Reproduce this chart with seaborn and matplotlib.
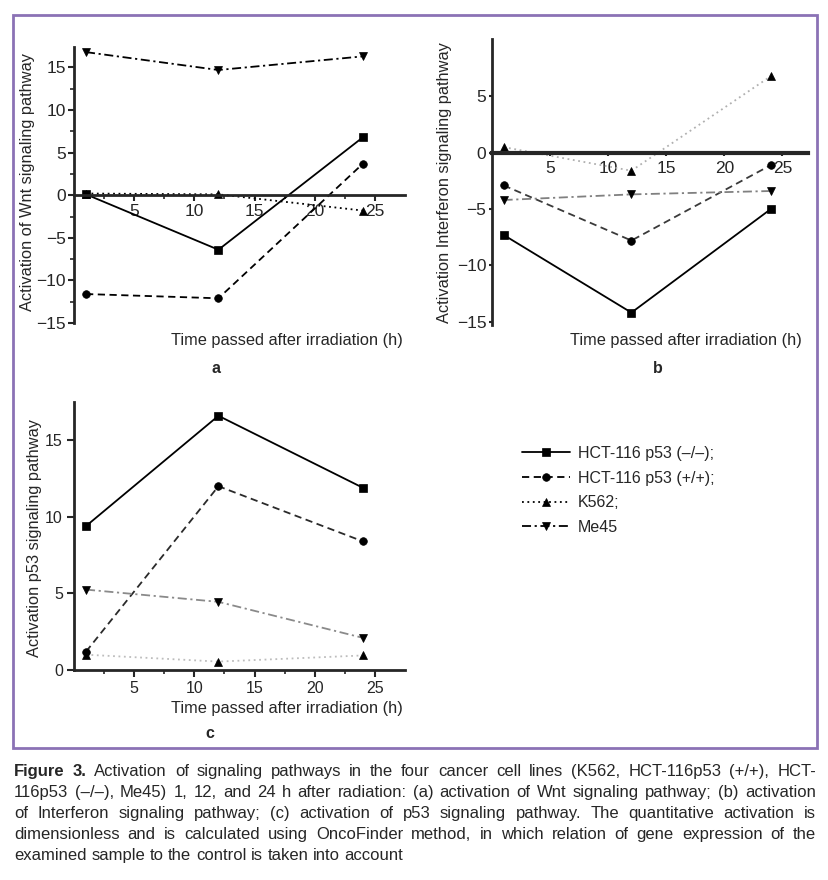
import numpy as np
import seaborn as sns
import matplotlib
matplotlib.use("Agg")
import matplotlib.pyplot as plt
from matplotlib.patches import Rectangle

##########
## data
hours = [1, 12, 24]
series_names = ["HCT-116 p53 (–/–);", "HCT-116 p53 (+/+);", "K562;", "Me45"]

wnt_hct_ko = [0.1, -6.4, 6.8]
wnt_hct_wt = [-11.6, -12.1, 3.7]
wnt_k562 = [0.2, 0.1, -1.8]
wnt_me45 = [16.8, 14.7, 16.3]

ifn_hct_ko = [-7.3, -14.2, -5.0]
ifn_hct_wt = [-2.9, -7.8, -1.1]
ifn_k562 = [0.5, -1.6, 6.8]
ifn_me45 = [-4.2, -3.7, -3.4]

p53_hct_ko = [9.4, 16.6, 11.9]
p53_hct_wt = [1.2, 12.0, 8.4]
p53_k562 = [1.0, 0.55, 0.95]
p53_me45 = [5.25, 4.45, 2.1]

caption_lines = [
    "Figure 3. Activation of signaling pathways in the four cancer cell lines (K562, HCT-116p53 (+/+), HCT-",
    "116p53 (–/–), Me45) 1, 12, and 24 h after radiation: (a) activation of Wnt signaling pathway; (b) activation",
    "of Interferon signaling pathway; (c) activation of p53 signaling pathway. The quantitative activation is",
    "dimensionless and is calculated using OncoFinder method, in which relation of gene expression of the",
    "examined sample to the control is taken into account",
]

##########
sns.set_style("ticks")
plt.rcParams["font.family"] = ["Liberation Sans", "DejaVu Sans"]
plt.rcParams["axes.unicode_minus"] = True

W, H = 829, 880
fig = plt.figure(figsize=(W / 100, H / 100), dpi=100)


def px(x, y):
    return x / W, 1 - y / H


def place_axes(l, t, r, b):
    return fig.add_axes([l / W, 1 - b / H, (r - l) / W, (b - t) / H])


# line styles: solid / dashed / dotted / dash-dot
styles = [
    dict(linestyle="-", marker="s"),
    dict(linestyle=(0, (4, 2.5)), marker="o"),
    dict(linestyle=(0, (1, 2)), marker="^"),
    dict(linestyle=(0, (5, 2, 1.2, 2)), marker="v"),
]


def draw(ax, values, colors):
    for vals, st, col, name in zip(values, styles, colors, series_names):
        sns.lineplot(x=hours, y=vals, ax=ax, color=col, linewidth=1.3,
                     markersize=5.5, markerfacecolor="black", markeredgecolor="black",
                     markeredgewidth=0.5, errorbar=None, legend=False, label=name, **st)
    ax.set_xlabel("")
    ax.set_ylabel("")
    for s in ["top", "right"]:
        ax.spines[s].set_visible(False)


##### panel a
ax_a = place_axes(74, 47, 405, 323)
draw(ax_a, [wnt_hct_ko, wnt_hct_wt, wnt_k562, wnt_me45], ["black"] * 4)
ax_a.set_xlim(0, 27.5)
ax_a.set_ylim(-15, 17.4)
ax_a.spines["bottom"].set_position(("data", 0))
ax_a.spines["bottom"].set_linewidth(2)
ax_a.spines["left"].set_linewidth(2)
ax_a.set_xticks([5, 10, 15, 20, 25])
ax_a.set_xticks(np.arange(2.5, 27.5, 5), minor=True)
ax_a.set_yticks([-15, -10, -5, 0, 5, 10, 15])
ax_a.set_yticks(np.arange(-12.5, 17.5, 5), minor=True)
ax_a.tick_params(axis="both", which="major", labelsize=12.5, length=4, width=1.5, pad=2)
ax_a.tick_params(axis="both", which="minor", length=3, width=1.2)

##### panel b
ax_b = place_axes(492, 39, 808, 325)
draw(ax_b, [ifn_hct_ko, ifn_hct_wt, ifn_k562, ifn_me45],
     ["black", "#3a3a3a", "#b0b0b0", "#808080"])
ax_b.set_xlim(0, 27.2)
ax_b.set_ylim(-15.3, 10.1)
ax_b.spines["bottom"].set_position(("data", 0))
ax_b.spines["bottom"].set_linewidth(3)
ax_b.spines["left"].set_linewidth(2)
ax_b.set_xticks([5, 10, 15, 20, 25])
ax_b.set_yticks([-15, -10, -5, 0, 5])
ax_b.tick_params(axis="both", which="major", labelsize=12.5, length=2, width=1.5, pad=2)
ax_b.tick_params(axis="x", pad=4)

##### panel c
ax_c = place_axes(74, 402, 405, 670)
draw(ax_c, [p53_hct_ko, p53_hct_wt, p53_k562, p53_me45],
     ["black", "#2a2a2a", "#bdbdbd", "#8a8a8a"])
ax_c.set_xlim(0, 27.5)
ax_c.set_ylim(0, 17.5)
ax_c.spines["bottom"].set_linewidth(2)
ax_c.spines["left"].set_linewidth(2)
ax_c.set_xticks([5, 10, 15, 20, 25])
ax_c.set_xticks(np.arange(2.5, 27.5, 5), minor=True)
ax_c.set_yticks([0, 5, 10, 15])
ax_c.tick_params(axis="both", which="major", labelsize=11.5, length=5, width=1.5, pad=3)
ax_c.tick_params(axis="both", which="minor", length=3, width=1.2)

##### axis labels and panel letters
lab = dict(fontsize=11.8, ha="center", va="center")
fig.text(*px(28, 182), "Activation of Wnt signaling pathway", rotation=90, **lab)
fig.text(*px(445, 183), "Activation Interferon signaling pathway", rotation=90, **lab)
fig.text(*px(35, 538), "Activation p53 signaling pathway", rotation=90, **lab)
fig.text(*px(287, 340), "Time passed after irradiation (h)", **lab)
fig.text(*px(686, 340), "Time passed after irradiation (h)", **lab)
fig.text(*px(287, 708), "Time passed after irradiation (h)", **lab)
for letter, (x, y) in zip("abc", [(216, 368), (658, 368), (210, 733)]):
    fig.text(*px(x, y), letter, fontsize=11.5, fontweight="bold", ha="center", va="center")

##### legend (black handles from panel a)
handles = ax_a.get_lines()[:4]
fig.legend(handles, series_names, loc="upper left", bbox_to_anchor=px(522, 446),
           frameon=False, fontsize=11.5, handlelength=3.0, handletextpad=0.5,
           labelspacing=0.6, borderpad=0, borderaxespad=0)

##### purple frame
fig.add_artist(Rectangle(px(13, 748), (817 - 13) / W, (748 - 15) / H,
                         transform=fig.transFigure, fill=False,
                         edgecolor="#8b72b5", linewidth=2))

##### caption, justified
renderer = fig.canvas.get_renderer()


def width_of(s, size, bold=False):
    t = fig.text(0, 0, s, fontsize=size, fontweight="bold" if bold else "normal")
    w = t.get_window_extent(renderer).width
    t.remove()
    return w


left_x, right_x = 14, 816
cap_size = 12.0
space_w = width_of("a a", cap_size) - width_of("aa", cap_size)
natural = []
for i, line in enumerate(caption_lines):
    words = line.split(" ")
    ws = [width_of(w, cap_size, bold=(i == 0 and j < 2)) for j, w in enumerate(words)]
    natural.append(sum(ws) + space_w * (len(words) - 1))
scale = min(1.0, (right_x - left_x) * 0.998 / max(natural))
cap_size *= scale
space_w *= scale

y0, dy = 771, 21.2
for i, line in enumerate(caption_lines):
    words = line.split(" ")
    bolds = [(i == 0 and j < 2) for j in range(len(words))]
    ws = [width_of(w, cap_size, b) for w, b in zip(words, bolds)]
    if i < len(caption_lines) - 1:
        gap = (right_x - left_x - sum(ws)) / (len(words) - 1)
    else:
        gap = space_w
    x = left_x
    for w, b, wd in zip(words, bolds, ws):
        fig.text(*px(x, y0 + i * dy), w, fontsize=cap_size,
                 fontweight="bold" if b else "normal", ha="left", va="center")
        x += wd + gap

fig.savefig("out.png", dpi=100)
